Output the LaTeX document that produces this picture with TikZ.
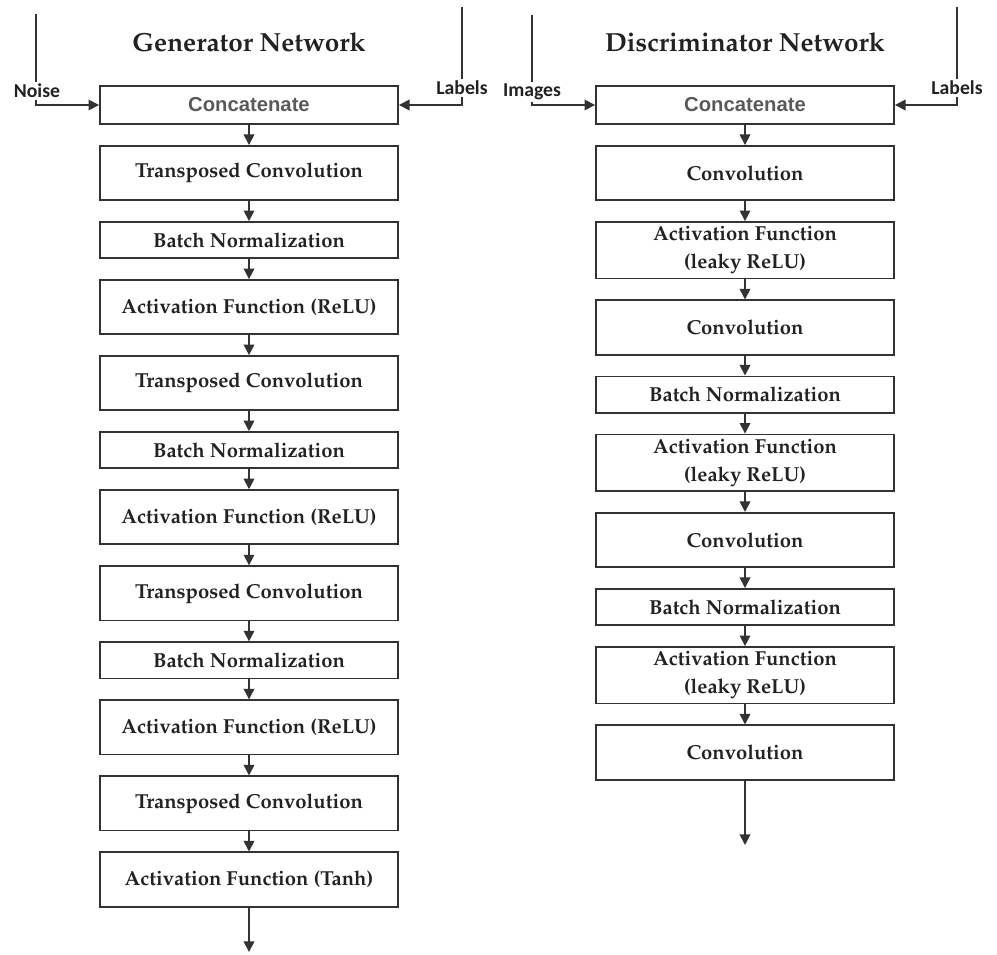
\documentclass[tikz,border=0pt]{standalone}
\usepackage[T1]{fontenc}
\usepackage{fontspec}
\newfontfamily\calib{Carlito}
\newfontfamily\arialf{Liberation Sans}
\newcommand{\pala}{\fontencoding{T1}\fontfamily{ppl}\fontseries{b}\selectfont}
\usetikzlibrary{positioning,arrows.meta}
\definecolor{boxline}{HTML}{333333}
\definecolor{txt}{HTML}{222222}
\definecolor{catgray}{HTML}{5A5A5A}
\tikzset{
  layer/.style={draw=boxline,line width=1.3pt,minimum width=7.45cm,minimum height=1.355cm,
    align=center,text=txt,font=\pala\fontsize{14.4}{19.8}\selectfont},
  bnbox/.style={layer,minimum height=0.905cm},
  leaky/.style={layer,minimum height=1.405cm},
  catbox/.style={layer,minimum height=0.955cm,text=catgray,font=\arialf\bfseries\fontsize{14.4}{17}\selectfont},
  inlabel/.style={fill=white,inner sep=1.5pt,text=txt,font=\calib\bfseries\fontsize{14}{16}\selectfont},
  nettitle/.style={text=txt,font=\pala\fontsize{18.6}{22}\selectfont},
  arr/.style={draw=boxline,line width=1.2pt,-{Triangle[length=7.5pt,width=7.5pt]}}
}
\begin{document}
\begin{tikzpicture}[x=0.025cm,y=-0.025cm,node distance=0.5cm]
\useasboundingbox (0,0) rectangle (997,954);
%generator
\node[nettitle] (gtitle) at (249,42) {Generator Network};
\node[catbox] (gcat) at (249,105) {Concatenate};
\node[layer,below=of gcat] (g1) {Transposed Convolution};
\node[bnbox,below=of g1] (g2) {Batch Normalization};
\node[layer,below=of g2] (g3) {Activation Function (ReLU)};
\node[layer,below=of g3] (g4) {Transposed Convolution};
\node[bnbox,below=of g4] (g5) {Batch Normalization};
\node[layer,below=of g5] (g6) {Activation Function (ReLU)};
\node[layer,below=of g6] (g7) {Transposed Convolution};
\node[bnbox,below=of g7] (g8) {Batch Normalization};
\node[layer,below=of g8] (g9) {Activation Function (ReLU)};
\node[layer,below=of g9] (g10) {Transposed Convolution};
\node[layer,below=of g10] (g11) {Activation Function (Tanh)};
\coordinate (gout) at (249,952);
\coordinate (noisein) at (36,14);
\coordinate (glabin) at (462,7);
\draw[arr] (noisein) |- (gcat.west);
\draw[arr] (glabin) |- (gcat.east);
\node[inlabel] (noise) at (37,91) {Noise};
\node[inlabel] (glab) at (462,88) {Labels};
\foreach \a/\b in {gcat/g1,g1/g2,g2/g3,g3/g4,g4/g5,g5/g6,g6/g7,g7/g8,g8/g9,g9/g10,g10/g11,g11/gout}{
\draw[arr] (\a) -- (\b);
}
%discriminator
\node[nettitle] (dtitle) at (745,42) {Discriminator Network};
\node[catbox] (dcat) at (745,105) {Concatenate};
\node[layer,below=of dcat] (d1) {Convolution};
\node[leaky,below=of d1] (d2) {Activation Function\\(leaky ReLU)};
\node[layer,below=of d2] (d3) {Convolution};
\node[bnbox,below=of d3] (d4) {Batch Normalization};
\node[leaky,below=of d4] (d5) {Activation Function\\(leaky ReLU)};
\node[layer,below=of d5] (d6) {Convolution};
\node[bnbox,below=of d6] (d7) {Batch Normalization};
\node[leaky,below=of d7] (d8) {Activation Function\\(leaky ReLU)};
\node[layer,below=of d8] (d9) {Convolution};
\coordinate (dout) at (745,845);
\coordinate (imgin) at (532,15);
\coordinate (dlabin) at (957,7);
\draw[arr] (imgin) |- (dcat.west);
\draw[arr] (dlabin) |- (dcat.east);
\node[inlabel] (images) at (532,92) {Images};
\node[inlabel] (dlab) at (957,88) {Labels};
\foreach \a/\b in {dcat/d1,d1/d2,d2/d3,d3/d4,d4/d5,d5/d6,d6/d7,d7/d8,d8/d9,d9/dout}{
\draw[arr] (\a) -- (\b);
}
\end{tikzpicture}
\end{document}
